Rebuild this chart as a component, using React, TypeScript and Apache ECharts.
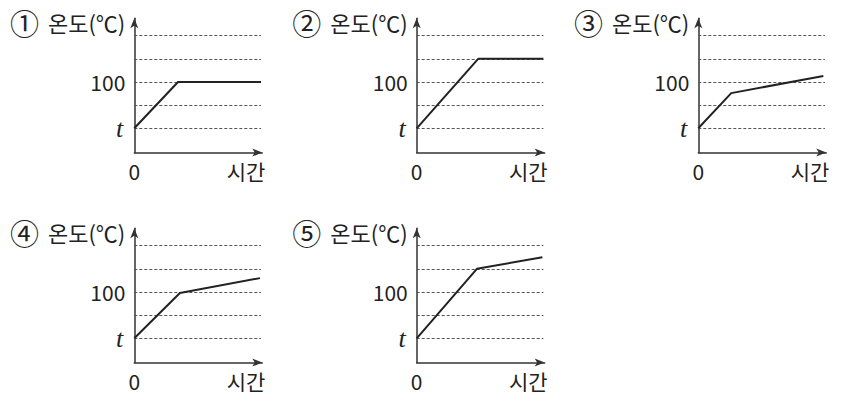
import React, { useEffect, useRef } from "react";
import * as echarts from "echarts";

// ---- data ----
const panelMarks = ["①", "②", "③", "④", "⑤"];
const timeValues = [
  [0, 3.45, 10],
  [0, 4.85, 10],
  [0, 2.6, 9.87],
  [0, 3.6, 9.92],
  [0, 4.75, 9.92],
];
const tempLevels = [
  [0, 2, 2],
  [0, 3, 3],
  [0, 1.52, 2.26],
  [0, 1.96, 2.6],
  [0, 3, 3.5],
];
const gridLevels = [0, 1, 2, 3, 4];
const yTickValues = [0, 2];
const yTickLabels = ["t", "100"];
const xTickValues = [0];
const xTickLabels = ["0"];
const yAxisTitle = "온도(℃)";
const xAxisTitle = "시간";
const gridEnd = 10;

// ---- layout ----
const colX = [134.3, 416.7, 698.3];
const rowBase = [128.3, 338.3];
const panelPos = [
  [0, 0],
  [1, 0],
  [2, 0],
  [0, 1],
  [1, 1],
];
const unitX = 12.67;
const unitY = 23.15;
const xMax = 10.1;
const yMin = -1.05;
const yMax = 4.75;

const FONT = "'Noto Sans CJK KR', 'Noto Sans', sans-serif";
const INK = "#222";

export default function App() {
  const ref = useRef<HTMLDivElement>(null);
  useEffect(() => {
    if (!ref.current) return;
    const chart = echarts.init(ref.current, undefined, { renderer: "svg" });
    const grids: any[] = [];
    const xAxes: any[] = [];
    const yAxes: any[] = [];
    const series: any[] = [];
    panelMarks.forEach((mark, i) => {
      const [c, r] = panelPos[i];
      const left = colX[c];
      const top = rowBase[r] - yMax * unitY;
      grids.push({
        left,
        top,
        width: xMax * unitX,
        height: (yMax - yMin) * unitY,
        containLabel: false,
      });
      const axisLine = {
        onZero: false,
        symbol: ["none", "arrow"],
        symbolSize: [6, 10],
        lineStyle: { color: "#333", width: 1.5 },
      };
      xAxes.push({
        type: "value",
        gridIndex: i,
        min: 0,
        max: xMax,
        axisLine,
        axisTick: { show: false },
        splitLine: { show: false },
        axisLabel: {
          customValues: xTickValues,
          formatter: (v: number) => xTickLabels[xTickValues.indexOf(v)] ?? "",
          margin: 8,
          fontSize: 21,
          lineHeight: 21,
          fontFamily: FONT,
          color: INK,
          showMinLabel: true,
        },
        name: xAxisTitle,
        nameLocation: "end",
        nameGap: 3,
        nameTextStyle: {
          fontSize: 21,
          fontFamily: FONT,
          color: INK,
          align: "right",
          verticalAlign: "top",
          lineHeight: 21,
          padding: [8, 0, 0, 0],
        },
      });
      yAxes.push({
        type: "value",
        gridIndex: i,
        min: yMin,
        max: yMax,
        axisLine,
        axisTick: { show: false },
        splitLine: { show: false },
        axisLabel: {
          customValues: yTickValues,
          formatter: (v: number) => {
            const idx = yTickValues.indexOf(v);
            if (idx < 0) return "";
            const s = yTickLabels[idx];
            return s === "t" ? "{t|t}" : s;
          },
          margin: 9,
          fontSize: 21,
          fontFamily: FONT,
          color: INK,
          rich: {
            t: {
              fontFamily: "'Liberation Serif', 'DejaVu Serif', serif",
              fontStyle: "italic",
              fontSize: 26,
              color: INK,
              padding: [0, 2, 0, 0],
            },
          },
        },
        name: `{c|${mark}}{s|}${yAxisTitle}`,
        nameLocation: "end",
        nameGap: -4,
        nameTextStyle: {
          fontSize: 22,
          fontFamily: FONT,
          color: INK,
          align: "right",
          verticalAlign: "middle",
          padding: [0, 9, 0, 0],
          rich: {
            c: { fontSize: 29, fontFamily: FONT, color: INK },
            s: { width: 9 },
          },
        },
      });
      series.push({
        type: "line",
        xAxisIndex: i,
        yAxisIndex: i,
        data: timeValues[i].map((x, k) => [x, tempLevels[i][k]]),
        showSymbol: false,
        symbol: "none",
        lineStyle: { color: INK, width: 2 },
        z: 3,
        markLine: {
          silent: true,
          symbol: ["none", "none"],
          label: { show: false },
          lineStyle: { type: [3, 2], color: "#555", width: 1 },
          data: gridLevels.map((lv) => [
            { coord: [0, lv] },
            { coord: [gridEnd, lv] },
          ]),
          z: 1,
        },
      });
    });
    chart.setOption({
      animation: false,
      backgroundColor: "#fff",
      grid: grids,
      xAxis: xAxes,
      yAxis: yAxes,
      series,
    });
    return () => chart.dispose();
  }, []);
  return (
    <div
      ref={ref}
      style={{ position: "absolute", left: 0, top: 0, width: 844, height: 395 }}
    />
  );
}
